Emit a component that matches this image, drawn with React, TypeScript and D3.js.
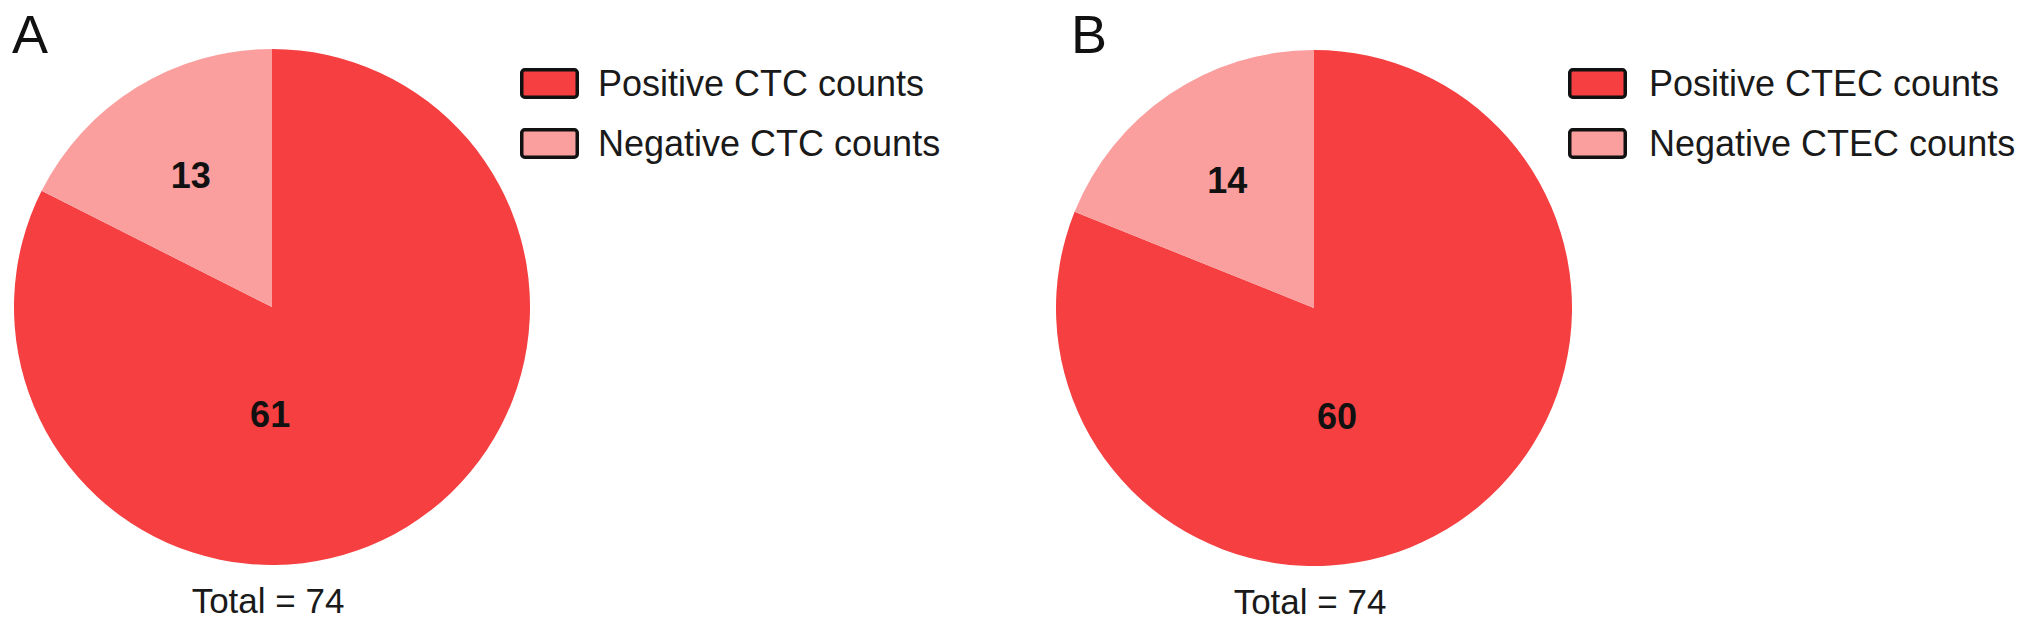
import React from "react";
import * as d3 from "d3";

// ---- data ----
const panelLetters = ["A", "B"];
const categories = ["Positive", "Negative"];
const ctcCounts = [61, 13];
const ctecCounts = [60, 14];
const legendLabelsA = ["Positive CTC counts", "Negative CTC counts"];
const legendLabelsB = ["Positive CTEC counts", "Negative CTEC counts"];
const totals = [74, 74];

// ---- style / layout ----
const W = 2032;
const H = 642;
const colors = ["#F53F40", "#FA9E9E"];
const FONT = "'Liberation Sans', Arial, Helvetica, sans-serif";

type Layout = {
  cx: number;
  cy: number;
  r: number;
  letterX: number;
  legendX: number;
  legendTextGap: number;
  bigLabel: { angleDeg: number; rFrac: number };
};

const layouts: Layout[] = [
  { cx: 272, cy: 307, r: 258, letterX: 12, legendX: 520, legendTextGap: 78, bigLabel: { angleDeg: 181, rFrac: 0.415 } },
  { cx: 1314, cy: 308, r: 258, letterX: 1071, legendX: 1568, legendTextGap: 81, bigLabel: { angleDeg: 168, rFrac: 0.43 } },
];

function Panel({ idx, values, legend, total }: { idx: number; values: number[]; legend: string[]; total: number }) {
  const L = layouts[idx];
  const pie = d3.pie<number>().sort(null).value((d) => d);
  const arcs = pie(values);
  const arc = d3.arc<d3.PieArcDatum<number>>().innerRadius(0).outerRadius(L.r);
  const labelArc = d3.arc<d3.PieArcDatum<number>>().innerRadius(L.r * 0.6).outerRadius(L.r * 0.6);
  const labelFont = 36;

  const labelPos = (a: d3.PieArcDatum<number>, i: number): [number, number] => {
    if (i === 0) {
      const ang = (L.bigLabel.angleDeg * Math.PI) / 180;
      const rr = L.bigLabel.rFrac * L.r;
      return [rr * Math.sin(ang), -rr * Math.cos(ang)];
    }
    return labelArc.centroid(a) as [number, number];
  };

  return (
    <g>
      <text x={L.letterX} y={53} fontFamily={FONT} fontSize={54} fill="#111">
        {panelLetters[idx]}
      </text>
      <g transform={`translate(${L.cx},${L.cy})`}>
        {arcs.map((a, i) => (
          <path key={categories[i]} d={arc(a) || ""} fill={colors[i]} />
        ))}
        {arcs.map((a, i) => {
          const [x, y] = labelPos(a, i);
          return (
            <text
              key={"l" + i}
              x={x}
              y={y + labelFont * 0.36}
              textAnchor="middle"
              fontFamily={FONT}
              fontWeight="bold"
              fontSize={labelFont}
              fill="#111"
            >
              {values[i]}
            </text>
          );
        })}
        <text x={-4} y={306} textAnchor="middle" fontFamily={FONT} fontSize={35} fill="#1a1a1a">
          {`Total = ${total}`}
        </text>
      </g>
      {legend.map((t, i) => {
        const top = 68 + i * 60;
        return (
          <g key={t}>
            <rect
              x={L.legendX + 1.75}
              y={top + 1.75}
              width={59 - 3.5}
              height={31 - 3.5}
              rx={3}
              fill={colors[i]}
              stroke="#111"
              strokeWidth={3.5}
            />
            <text
              x={L.legendX + L.legendTextGap}
              y={top + 15.5 + 12.5}
              fontFamily={FONT}
              fontSize={36}
              fill="#1a1a1a"
            >
              {t}
            </text>
          </g>
        );
      })}
    </g>
  );
}

export default function App() {
  return (
    <svg
      width={W}
      height={H}
      viewBox={`0 0 ${W} ${H}`}
      style={{ position: "absolute", left: 0, top: 0, background: "#fff" }}
    >
      <rect width={W} height={H} fill="#fff" />
      <Panel idx={0} values={ctcCounts} legend={legendLabelsA} total={totals[0]} />
      <Panel idx={1} values={ctecCounts} legend={legendLabelsB} total={totals[1]} />
    </svg>
  );
}
